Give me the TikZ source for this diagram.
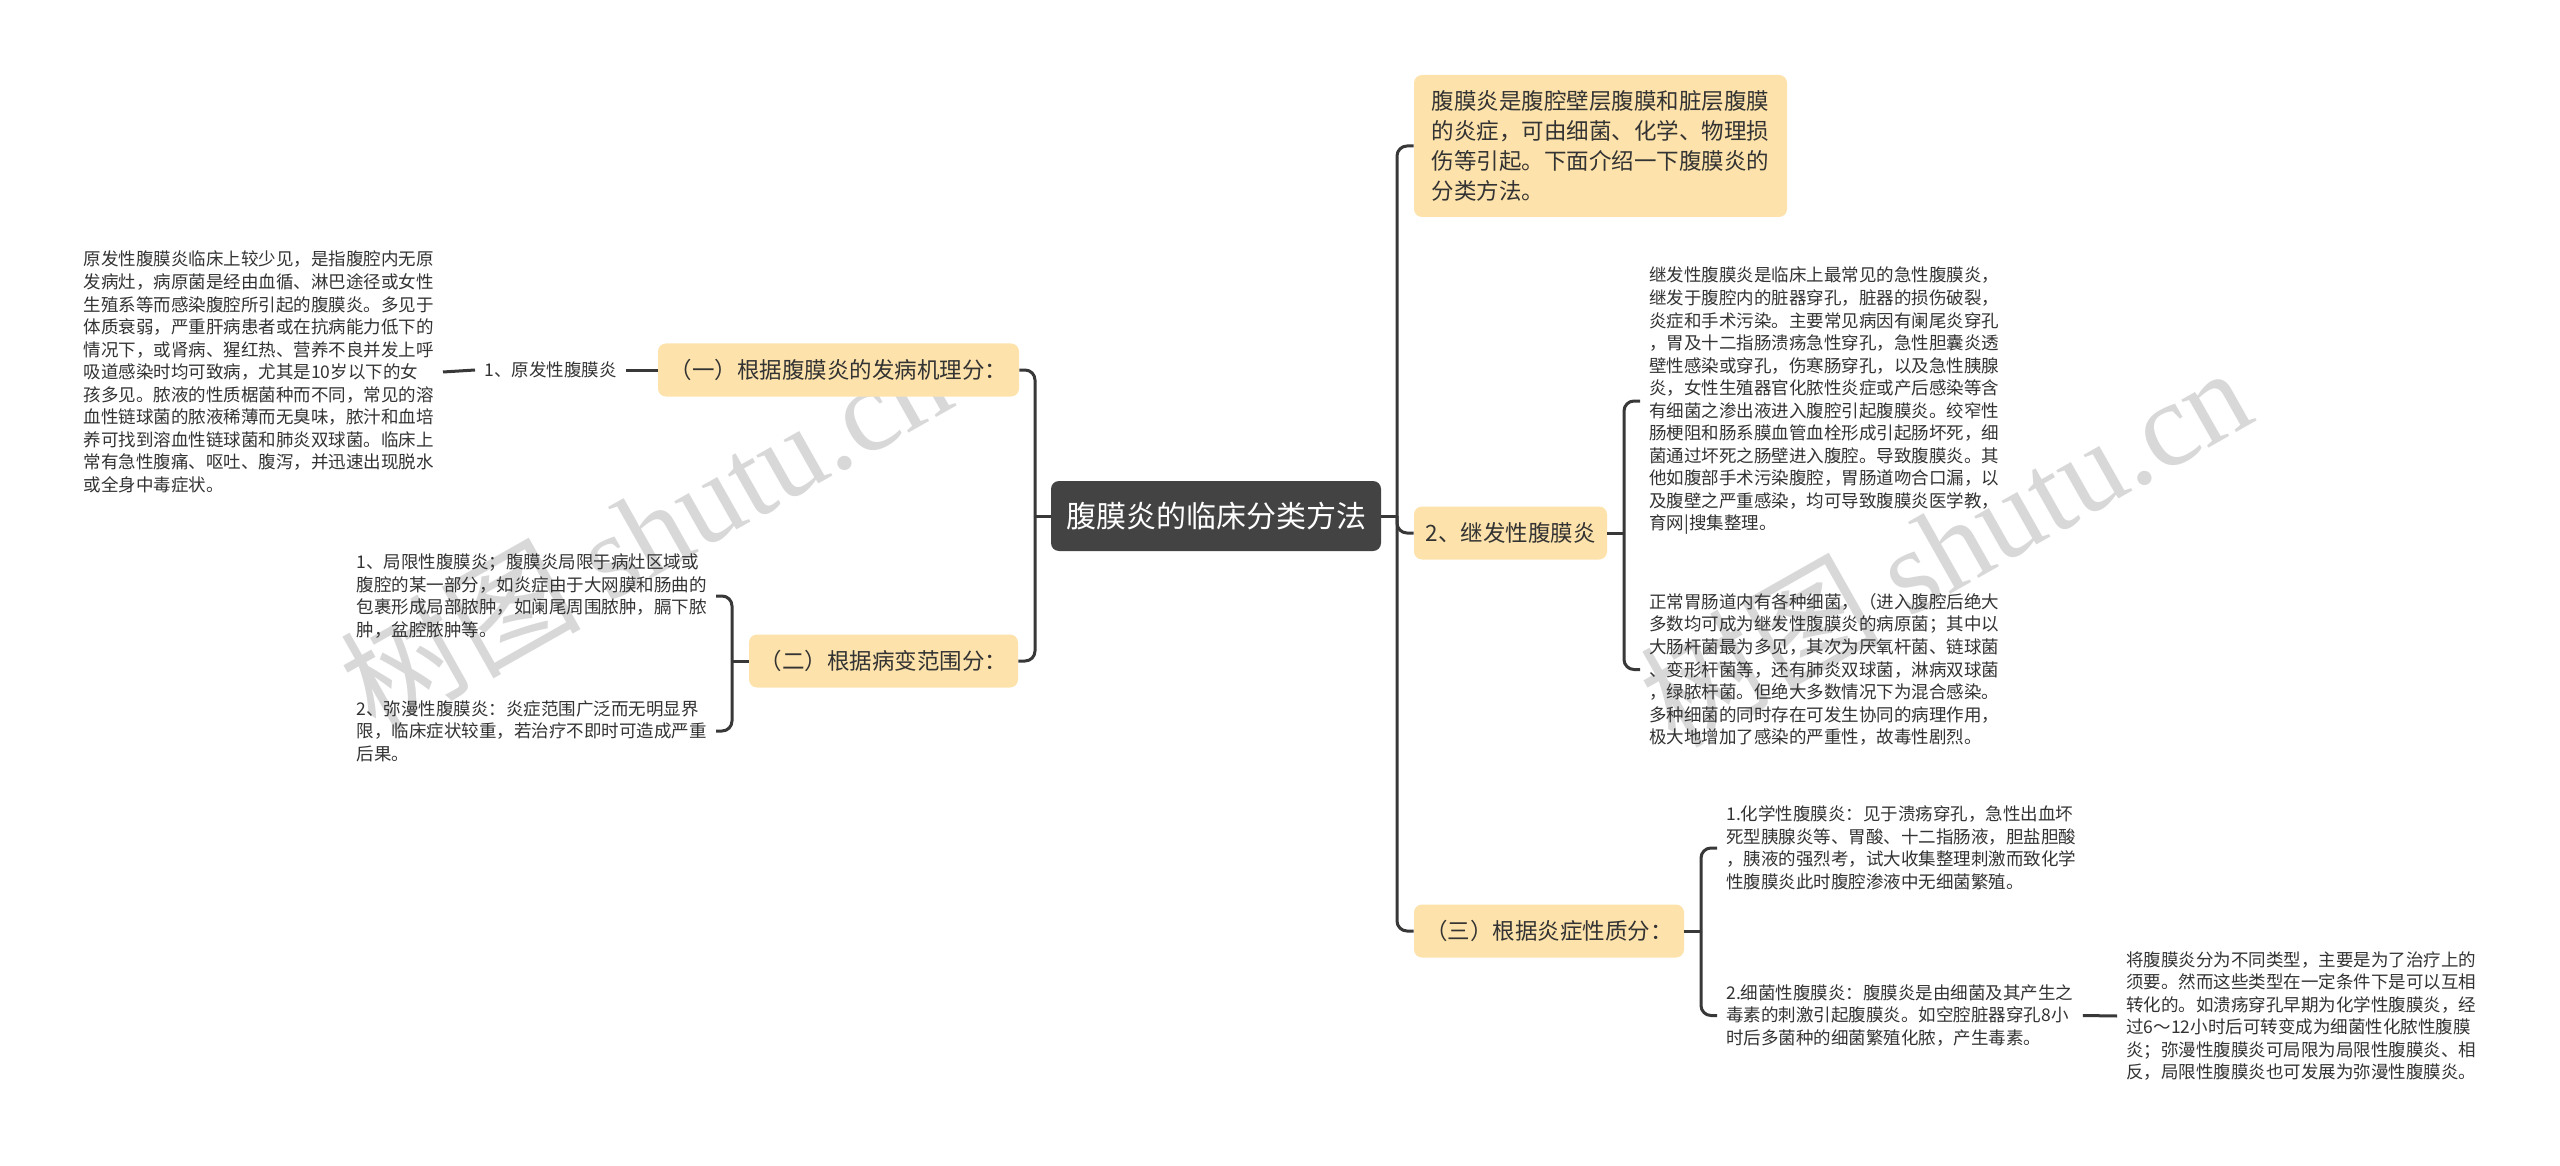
\documentclass[tikz,border=0pt]{standalone}
\usepackage{fontspec}
\setmainfont{Noto Sans CJK SC}
\newfontfamily\wmserif{Liberation Serif}
\definecolor{inkc}{HTML}{333333}
\definecolor{linec}{HTML}{383838}
\definecolor{branchc}{HTML}{FDE3AB}
\definecolor{rootc}{HTML}{434343}
\definecolor{wmc}{HTML}{D8D8D8}
\tikzset{
  conn/.style={draw=linec,line width=1.5pt},
  elbow/.style={conn,rounded corners=5pt},
  rootbox/.style={fill=rootc,text=white,rounded corners=4pt,inner sep=0pt,minimum width=165pt,minimum height=35pt,font=\fontsize{15}{18}\selectfont},
  branchbox/.style={fill=branchc,text=inkc,rounded corners=4pt,inner sep=0pt,minimum height=26.5pt,font=\fontsize{11.25}{15}\selectfont},
  leaf/.style={text=inkc,inner sep=4.5pt,align=left,font=\fontsize{8.75}{11.27}\selectfont},
  wmark/.style={text=wmc,rotate=29.5,inner sep=0pt,font=\fontsize{60}{60}\selectfont}
}
\begin{document}
\begin{tikzpicture}[x=0.5pt,y=-0.5pt]
\useasboundingbox (0,0) rectangle (2560,1166);
\fill[white] (0,0) rectangle (2560,1166);
% watermarks
\node[wmark] (wm1) at (645,530) {树图 {\wmserif shutu.cn}};
\node[wmark] (wm2) at (1945,545) {树图 {\wmserif shutu.cn}};
% main nodes
\node[rootbox] (root) at (1216,516) {腹膜炎的临床分类方法};
\node[branchbox,minimum width=180.5pt] (n1) at (838.5,370) {（一）根据腹膜炎的发病机理分：};
\node[branchbox,minimum width=134.5pt] (n2) at (883.5,661) {（二）根据病变范围分：};
\node[branchbox,minimum width=186.5pt,minimum height=71pt,align=left,font=\fontsize{11.25}{15}\selectfont] (top) at (1600.5,146) {腹膜炎是腹腔壁层腹膜和脏层腹膜\\的炎症，可由细菌、化学、物理损\\伤等引起。下面介绍一下腹膜炎的\\分类方法。};
\node[branchbox,minimum width=96.5pt] (s2) at (1510.5,533) {2、继发性腹膜炎};
\node[branchbox,minimum width=135pt] (n3) at (1549,931) {（三）根据炎症性质分：};
% left leaves
\node[leaf,anchor=east] (primary) at (443,372) {原发性腹膜炎临床上较少见，是指腹腔内无原\\发病灶，病原菌是经由血循、淋巴途径或女性\\生殖系等而感染腹腔所引起的腹膜炎。多见于\\体质衰弱，严重肝病患者或在抗病能力低下的\\情况下，或肾病、猩红热、营养不良并发上呼\\吸道感染时均可致病，尤其是10岁以下的女\\孩多见。脓液的性质椐菌种而不同，常见的溶\\血性链球菌的脓液稀薄而无臭味，脓汁和血培\\养可找到溶血性链球菌和肺炎双球菌。临床上\\常有急性腹痛、呕吐、腹泻，并迅速出现脱水\\或全身中毒症状。};
\node[leaf,anchor=west] (plabel) at (475,370) {1、原发性腹膜炎};
\node[leaf,anchor=east] (loc) at (716,596) {1、局限性腹膜炎；腹膜炎局限于病灶区域或\\腹腔的某一部分，如炎症由于大网膜和肠曲的\\包裹形成局部脓肿，如阑尾周围脓肿，膈下脓\\肿，盆腔脓肿等。};
\node[leaf,anchor=east] (dif) at (716,731) {2、弥漫性腹膜炎：炎症范围广泛而无明显界\\限，临床症状较重，若治疗不即时可造成严重\\后果。};
% right leaves
\node[leaf,anchor=west] (sec1) at (1640,401) {继发性腹膜炎是临床上最常见的急性腹膜炎，\\继发于腹腔内的脏器穿孔，脏器的损伤破裂，\\炎症和手术污染。主要常见病因有阑尾炎穿孔\\，胃及十二指肠溃疡急性穿孔，急性胆囊炎透\\壁性感染或穿孔，伤寒肠穿孔，以及急性胰腺\\炎，女性生殖器官化脓性炎症或产后感染等含\\有细菌之渗出液进入腹腔引起腹膜炎。绞窄性\\肠梗阻和肠系膜血管血栓形成引起肠坏死，细\\菌通过坏死之肠壁进入腹腔。导致腹膜炎。其\\他如腹部手术污染腹腔，胃肠道吻合口漏，以\\及腹壁之严重感染，均可导致腹膜炎医学教，\\育网|搜集整理。};
\node[leaf,anchor=west] (sec2) at (1640,669.5) {正常胃肠道内有各种细菌，（进入腹腔后绝大\\多数均可成为继发性腹膜炎的病原菌；其中以\\大肠杆菌最为多见，其次为厌氧杆菌、链球菌\\、变形杆菌等，还有肺炎双球菌，淋病双球菌\\，绿脓杆菌。但绝大多数情况下为混合感染。\\多种细菌的同时存在可发生协同的病理作用，\\极大地增加了感染的严重性，故毒性剧烈。};
\node[leaf,anchor=west] (chem) at (1717,848) {1.化学性腹膜炎：见于溃疡穿孔，急性出血坏\\死型胰腺炎等、胃酸、十二指肠液，胆盐胆酸\\，胰液的强烈考，试大收集整理刺激而致化学\\性腹膜炎此时腹腔渗液中无细菌繁殖。};
\node[leaf,anchor=west] (bact) at (1717,1015.5) {2.细菌性腹膜炎：腹膜炎是由细菌及其产生之\\毒素的刺激引起腹膜炎。如空腔脏器穿孔8小\\时后多菌种的细菌繁殖化脓，产生毒素。};
\node[leaf,anchor=west] (trans) at (2117,1016) {将腹膜炎分为不同类型，主要是为了治疗上的\\须要。然而这些类型在一定条件下是可以互相\\转化的。如溃疡穿孔早期为化学性腹膜炎，经\\过6～12小时后可转变成为细菌性化脓性腹膜\\炎；弥漫性腹膜炎可局限为局限性腹膜炎、相\\反，局限性腹膜炎也可发展为弥漫性腹膜炎。};
% junctions
\coordinate (jl) at (1035,516);
\coordinate (jr) at (1397,516);
\coordinate (j2) at (732,661);
\coordinate (js) at (1624,533);
\coordinate (j3) at (1701,931);
% connectors
\draw[conn] (root.west) -- (jl);
\draw[conn] (root.east) -- (jr);
\draw[elbow] (jl) |- (n1.east);
\draw[elbow] (jl) |- (n2.east);
\draw[elbow] (jr) |- (top.west);
\draw[elbow] (jr) |- (s2.west);
\draw[elbow] (jr) |- (n3.west);
\draw[conn] (n1.west) -- (plabel.east);
\draw[conn] (plabel.west) -- (primary.east);
\draw[conn] (n2.west) -- (j2);
\draw[elbow] (j2) |- (loc.east);
\draw[elbow] (j2) |- (dif.east);
\draw[conn] (s2.east) -- (js);
\draw[elbow] (js) |- (sec1.west);
\draw[elbow] (js) |- (sec2.west);
\draw[conn] (n3.east) -- (j3);
\draw[elbow] (j3) |- (chem.west);
\draw[elbow] (j3) |- (bact.west);
\draw[conn] (bact.east) -- (trans.west);
\end{tikzpicture}
\end{document}
